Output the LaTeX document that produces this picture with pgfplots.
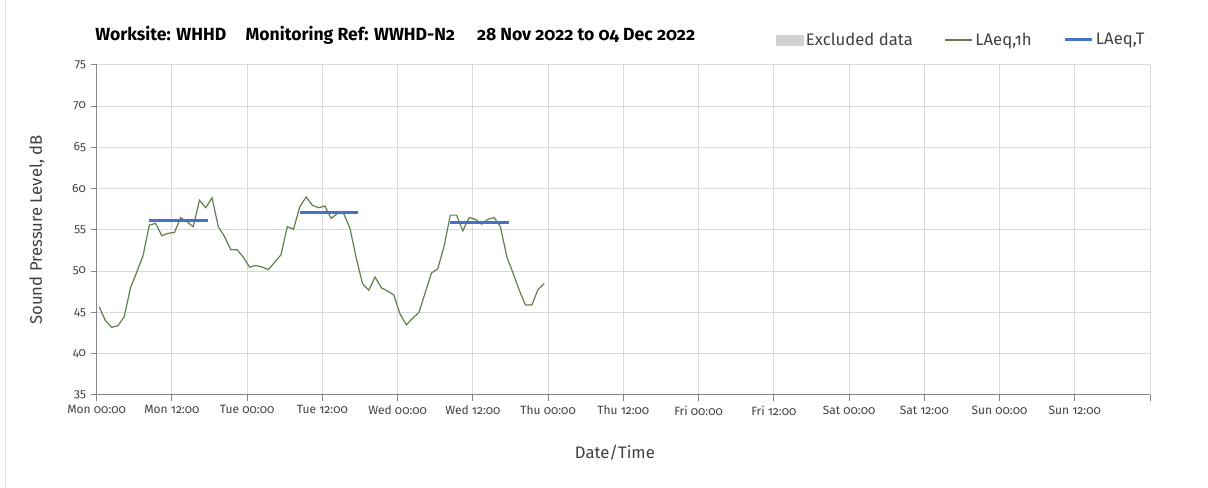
\documentclass[border=0pt]{standalone}
\usepackage{fontspec}
\setmainfont{Fira Sans}[Numbers=OldStyle]
\usepackage{pgfplots}
\pgfplotsset{compat=1.18}
\definecolor{laeqgreen}{RGB}{95,128,74}
\definecolor{laeqblue}{RGB}{68,114,196}
\definecolor{gridgray}{RGB}{217,217,217}
\definecolor{axisgray}{RGB}{134,134,134}
\definecolor{txtgray}{RGB}{64,64,64}
\definecolor{exclgray}{RGB}{210,210,210}
\begin{document}
\begin{tikzpicture}
\useasboundingbox (0,0) rectangle (906pt,366pt);
\draw[gray!25, line width=0.75pt] (4.1pt,0) -- (4.1pt,366pt);
\node[anchor=base west, font=\bfseries\fontsize{13.2}{15}\selectfont, inner sep=0pt] at (71.25pt, 335.25pt)
 {Worksite: WHHD\hspace{14.5pt}Monitoring Ref: WWHD-N2\hspace{16.5pt}28 Nov 2022 to 04 Dec 2022};
\begin{axis}[
 at={(72.5pt,69.75pt)}, anchor=south west, scale only axis,
 width=790pt, height=247.5pt,
 xmin=0, xmax=168, ymin=35, ymax=75,
 axis x line*=bottom, axis y line*=left,
 axis line style={axisgray, line width=0.75pt, -},
 xmajorgrids, ymajorgrids,
 major grid style={gridgray, line width=0.75pt},
 tick align=outside, major tick length=4.5pt,
 tick style={axisgray, line width=0.75pt},
 xtick={0,12,...,168},
 xticklabels={Mon 00:00,Mon 12:00,Tue 00:00,Tue 12:00,Wed 00:00,Wed 12:00,Thu 00:00,Thu 12:00,Fri 00:00,Fri 12:00,Sat 00:00,Sat 12:00,Sun 00:00,Sun 12:00,{}},
 ytick={35,40,...,75},
 /pgf/number format/assume math mode=true,
 ticklabel style={font=\fontsize{9}{11}\selectfont, text=txtgray},
 xlabel={Date/Time}, ylabel={Sound Pressure Level, dB},
 label style={font=\fontsize{12.5}{15}\selectfont, text=txtgray},
 xlabel style={at={(axis description cs:0.492,0)}, anchor=center, yshift=-43.5pt},
 ylabel style={at={(axis description cs:-0.0567,0.5)}, anchor=center},
 legend columns=3,
 legend style={at={(axis description cs:0.641,1.0758)}, anchor=west, draw=none, fill=none,
   font=\fontsize{12.5}{15}\selectfont, text=txtgray,
   nodes={inner sep=2pt},
   /tikz/every even column/.append style={column sep=22pt}},
 legend image code/.code={\draw[#1] (0pt,0pt) -- (20pt,0pt);},
]
\addlegendimage{legend image code/.code={\fill[exclgray] (0pt,-3.75pt) rectangle (20pt,3.75pt);}}
\addlegendentry{Excluded data}
\addplot[laeqgreen, line width=0.9pt, mark=none] table {
x y
0.4 45.7
1.4 44.0
2.4 43.2
3.4 43.4
4.4 44.5
5.4 48.0
6.4 49.9
7.4 51.9
8.4 55.6
9.4 55.8
10.4 54.3
11.4 54.6
12.4 54.7
13.4 56.5
14.4 56.0
15.4 55.4
16.4 58.6
17.4 57.7
18.4 58.9
19.4 55.4
20.4 54.2
21.4 52.6
22.4 52.6
23.4 51.7
24.4 50.5
25.4 50.7
26.4 50.5
27.4 50.2
28.4 51.1
29.4 52.0
30.4 55.4
31.4 55.1
32.4 57.8
33.4 59.0
34.4 58.0
35.4 57.7
36.4 57.9
37.4 56.4
38.4 57.0
39.4 57.0
40.4 55.2
41.4 51.6
42.4 48.5
43.4 47.7
44.4 49.3
45.4 48.0
46.4 47.6
47.4 47.1
48.4 44.8
49.4 43.5
50.4 44.3
51.4 45.0
52.4 47.4
53.4 49.8
54.4 50.3
55.4 53.0
56.4 56.8
57.4 56.8
58.4 54.9
59.4 56.5
60.4 56.3
61.4 55.7
62.4 56.3
63.4 56.5
64.4 55.4
65.4 51.8
66.4 49.8
67.4 47.7
68.4 45.9
69.4 45.9
70.4 47.8
71.4 48.5
};
\addlegendentry{LAeq,1h}
\addplot[laeqblue, line width=2.25pt, mark=none] coordinates {(8.3,56.1) (17.7,56.1)};
\addlegendentry{LAeq,T}
\addplot[laeqblue, line width=2.25pt, mark=none, forget plot] coordinates {(32.4,57.1) (41.7,57.1)};
\addplot[laeqblue, line width=2.25pt, mark=none, forget plot] coordinates {(56.4,55.9) (65.8,55.9)};
\end{axis}
\end{tikzpicture}
\end{document}
